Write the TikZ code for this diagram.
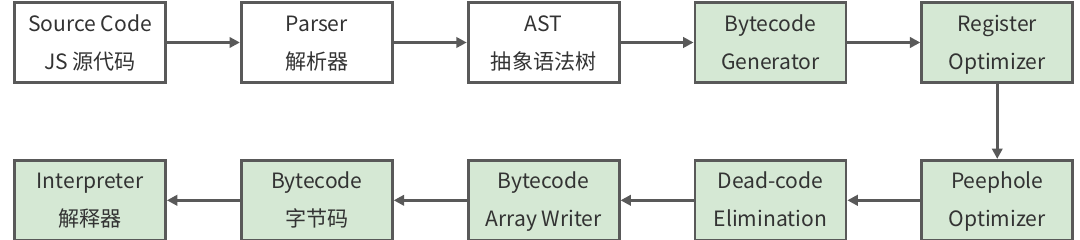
\documentclass[tikz,border=0pt]{standalone}
\usepackage{fontspec}
\setmainfont{Noto Sans CJK SC}
\usetikzlibrary{arrows.meta,positioning}
\definecolor{stagegreen}{HTML}{D5E8D4}
\definecolor{edgegray}{HTML}{595959}
\definecolor{textgray}{HTML}{333333}
\newcommand{\twoline}[2]{\strut #1\\\strut #2}

\begin{document}
\begin{tikzpicture}[
    node distance=1.825cm,
    every node/.style={font=\fontsize{15}{27}\selectfont, text=textgray},
    box/.style={draw=edgegray, line width=2pt, align=center, minimum width=3.775cm, minimum height=2cm, inner sep=0pt, fill=white},
    stage/.style={box, fill=stagegreen},
    flow/.style={-{Triangle[length=2.6mm, width=2.6mm]}, line width=2pt, draw=edgegray}
]
\useasboundingbox (0,0) rectangle (27,5.975);
\node[box] (source) at (2.25,4.9125) {\twoline{Source Code}{JS 源代码}};
\node[box, right=of source] (parser) {\twoline{Parser}{解析器}};
\node[box, right=of parser] (ast) {\twoline{AST}{抽象语法树}};
\node[stage, right=of ast] (generator) {\twoline{Bytecode}{Generator}};
\node[stage, right=of generator] (register) {\twoline{Register}{Optimizer}};
\node[stage, below=1.875cm of register] (peephole) {\twoline{Peephole}{Optimizer}};
\node[stage, left=of peephole] (deadcode) {\twoline{Dead-code}{Elimination}};
\node[stage, left=of deadcode] (writer) {\twoline{Bytecode}{Array Writer}};
\node[stage, left=of writer] (bytecode) {\twoline{Bytecode}{字节码}};
\node[stage, left=of bytecode] (interpreter) {\twoline{Interpreter}{解释器}};
\draw[flow] (source) -- (parser);
\draw[flow] (parser) -- (ast);
\draw[flow] (ast) -- (generator);
\draw[flow] (generator) -- (register);
\draw[flow] (register) -- (peephole);
\draw[flow] (peephole) -- (deadcode);
\draw[flow] (deadcode) -- (writer);
\draw[flow] (writer) -- (bytecode);
\draw[flow] (bytecode) -- (interpreter);
\end{tikzpicture}
\end{document}
